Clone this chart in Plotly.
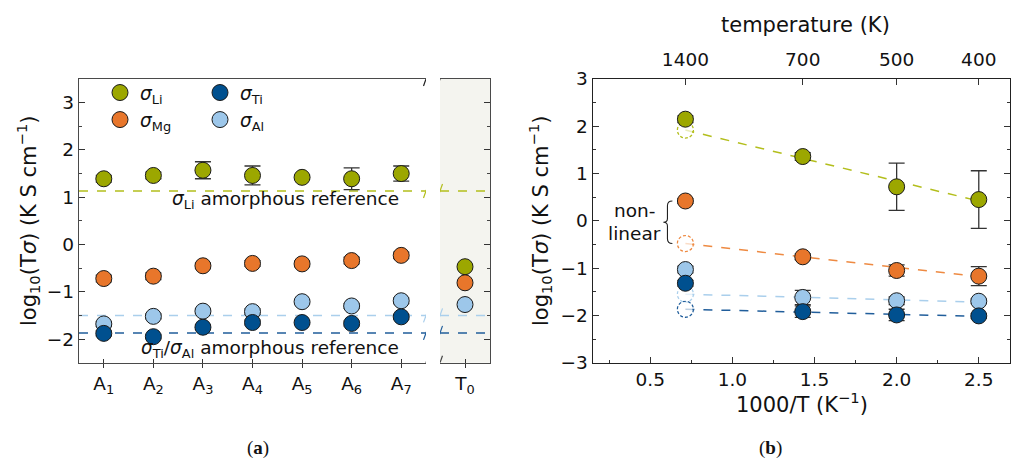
import plotly.graph_objects as go

# ---------------- data: panel (a) ----------------
samples = ["A<sub>1</sub>", "A<sub>2</sub>", "A<sub>3</sub>", "A<sub>4</sub>",
           "A<sub>5</sub>", "A<sub>6</sub>", "A<sub>7</sub>"]
sample_pos = [1, 2, 3, 4, 5, 6, 7]
ref_sample = ["T<sub>0</sub>"]
ref_pos = [0]

li_a = [1.39, 1.46, 1.57, 1.46, 1.42, 1.39, 1.50]
li_a_err = [0.07, 0.07, 0.18, 0.20, 0.05, 0.23, 0.16]
mg_a = [-0.72, -0.67, -0.45, -0.40, -0.41, -0.34, -0.23]
mg_a_err = [0.07, 0.07, 0.06, 0.06, 0.06, 0.07, 0.07]
ti_a = [-1.88, -1.95, -1.75, -1.65, -1.65, -1.67, -1.53]
ti_a_err = [0.05, 0.04, 0.05, 0.05, 0.04, 0.05, 0.05]
al_a = [-1.68, -1.52, -1.41, -1.42, -1.21, -1.30, -1.19]
al_a_err = [0.05, 0.05, 0.05, 0.06, 0.05, 0.05, 0.06]

li_t0, mg_t0, al_t0 = [-0.47], [-0.81], [-1.27]
t0_err = [0.05]

ref_li, ref_al, ref_ti = 1.13, -1.50, -1.87

# ---------------- data: panel (b) ----------------
temperature = [1400, 700, 500, 400]
inv_T = [1000 / t for t in temperature]
li_b = [2.15, 1.36, 0.72, 0.45]
li_b_err = [0.07, 0.08, 0.50, 0.61]
mg_b = [0.42, -0.76, -1.05, -1.17]
mg_b_err = [0.05, 0.06, 0.12, 0.20]
al_b = [-1.03, -1.62, -1.69, -1.70]
al_b_err = [0.07, 0.15, 0.08, 0.05]
ti_b = [-1.32, -1.92, -1.99, -2.01]
ti_b_err = [0.06, 0.12, 0.12, 0.05]

fit_x = [inv_T[0], inv_T[-1]]
li_fit = [1.92, 0.42]
mg_fit = [-0.48, -1.18]
al_fit = [-1.55, -1.72]
ti_fit = [-1.87, -2.02]

# ---------------- styles ----------------
C_LI, C_MG, C_TI, C_AL = "#9CA700", "#E8762B", "#00508F", "#9DC7EA"
L_LI, L_MG, L_TI, L_AL = "#B3BE1C", "#EE8A42", "#215E9B", "#AACFEC"
FONT = "DejaVu Sans"
TS = 18.5   # tick / annotation text size
TT = 21     # axis title size
EB = dict(type="data", color="#333333", thickness=1.3, width=8)
MK = lambda c: dict(size=16, color=c, line=dict(color="#1a1a1a", width=1))

fig = go.Figure()

def pts(x, y, err, color, xa, ya, name=None, legend=None):
    fig.add_trace(go.Scatter(
        x=x, y=y, mode="markers", xaxis=xa, yaxis=ya,
        error_y=dict(array=err, **EB), marker=MK(color),
        name=name or "", showlegend=name is not None,
        legend=legend or "legend", hoverinfo="skip"))

def hline(val, color, xa, ya, rng):
    fig.add_trace(go.Scatter(x=rng, y=[val, val], mode="lines", xaxis=xa, yaxis=ya,
                             line=dict(color=color, width=1.5, dash="dash"),
                             showlegend=False, hoverinfo="skip"))

# reference lines (a)
for val, col in [(ref_li, L_LI), (ref_al, L_AL), (ref_ti, L_TI)]:
    hline(val, col, "x", "y", [0.5, 7.5])
    hline(val, col, "x2", "y2", [-0.5, 0.5])

# points (a)
pts(sample_pos, li_a, li_a_err, C_LI, "x", "y", "<i>σ</i><sub>Li</sub>", "legend")
pts(sample_pos, mg_a, mg_a_err, C_MG, "x", "y", "<i>σ</i><sub>Mg</sub>", "legend")
pts(sample_pos, al_a, al_a_err, C_AL, "x", "y")
pts(sample_pos, ti_a, ti_a_err, C_TI, "x", "y", "<i>σ</i><sub>Ti</sub>", "legend2")
fig.add_trace(go.Scatter(x=[None], y=[None], mode="markers", xaxis="x", yaxis="y",
                         error_y=dict(array=[0], **EB), marker=MK(C_AL),
                         name="<i>σ</i><sub>Al</sub>", legend="legend2"))
pts(ref_pos, li_t0, t0_err, C_LI, "x2", "y2")
pts(ref_pos, mg_t0, t0_err, C_MG, "x2", "y2")
pts(ref_pos, al_t0, t0_err, C_AL, "x2", "y2")

# fit lines (b)
for fy, col in [(li_fit, L_LI), (mg_fit, L_MG), (al_fit, L_AL), (ti_fit, L_TI)]:
    fig.add_trace(go.Scatter(x=fit_x, y=fy, mode="lines+markers", xaxis="x3", yaxis="y3",
                             line=dict(color=col, width=1.5, dash="dash"),
                             marker=dict(size=[14, 0], color="white", line=dict(width=0)),
                             showlegend=False, hoverinfo="skip"))

# points (b)
pts(inv_T, li_b, li_b_err, C_LI, "x3", "y3")
pts(inv_T, mg_b, mg_b_err, C_MG, "x3", "y3")
pts(inv_T, al_b, al_b_err, C_AL, "x3", "y3")
pts(inv_T, ti_b, ti_b_err, C_TI, "x3", "y3")

# invisible traces to activate overlay axes
fig.add_trace(go.Scatter(x=[inv_T[0]], y=[None], xaxis="x4", yaxis="y3",
                         showlegend=False, hoverinfo="skip"))
fig.add_trace(go.Scatter(x=[sample_pos[0]], y=[None], xaxis="x5", yaxis="y",
                         showlegend=False, hoverinfo="skip"))
fig.add_trace(go.Scatter(x=[ref_pos[0]], y=[None], xaxis="x6", yaxis="y2",
                         showlegend=False, hoverinfo="skip"))

shapes = []
# dashed open circles (extrapolated values at 1400 K)
for fy, col in [(li_fit, L_LI), (mg_fit, L_MG), (al_fit, L_AL), (ti_fit, L_TI)]:
    shapes.append(dict(type="circle", xref="x3", yref="y3", xsizemode="pixel",
                       ysizemode="pixel", xanchor=fit_x[0], yanchor=fy[0],
                       x0=-8, x1=8, y0=-8, y1=8, layer="between",
                       line=dict(color=col, width=1.3, dash="3px,2px")))

# shaded T0 region
shapes.append(dict(type="rect", xref="x2 domain", yref="y2 domain", x0=0, x1=1, y0=0, y1=1,
                   fillcolor="#F4F4EF", line=dict(width=0), layer="below"))

# axis break marks
def slash(xref, xa, yref, ya, color):
    shapes.append(dict(type="line", xref=xref, yref=yref, xsizemode="pixel",
                       ysizemode="pixel", xanchor=xa, yanchor=ya,
                       x0=-2.5, x1=2.5, y0=-7, y1=7, layer="above",
                       line=dict(color=color, width=1.2)))

for ya, col in [(3.5, "#222222"), (-2.5, "#444444"), (ref_li, L_LI), (ref_al, L_AL), (ref_ti, L_TI)]:
    slash("x", 7.5, "y", ya, col)
    slash("x2", -0.5, "y2", ya, col)

# curly brace "non-linear"
bx = 0.605
by0, by1 = mg_b[0], mg_fit[0]
bm = (by0 + by1) / 2
path = (f"M {bx+0.03},{by0} Q {bx},{by0} {bx},{by0-0.1} L {bx},{bm+0.08} "
        f"Q {bx},{bm} {bx-0.025},{bm} Q {bx},{bm} {bx},{bm-0.08} "
        f"L {bx},{by1+0.1} Q {bx},{by1} {bx+0.03},{by1}")
shapes.append(dict(type="path", xref="x3", yref="y3", path=path,
                   line=dict(color="#222222", width=1.1)))

TF = dict(family=FONT, size=TS, color="#111111")
AX = dict(showline=True, linecolor="#222222", linewidth=1.3, showgrid=False, zeroline=False,
          tickfont=TF, tickcolor="#333333")
AXL = dict(AX, linecolor="#4a4a4a")

yd = [1 - 362.7 / 464, 1 - 79 / 464]
xd1 = [79 / 1011, 426 / 1011]
xd2 = [440 / 1011, 490 / 1011]

fig.update_layout(
    width=1011, height=464, margin=dict(l=0, r=0, t=0, b=0, pad=0, autoexpand=False),
    paper_bgcolor="white", plot_bgcolor="rgba(0,0,0,0)",
    font=dict(family=FONT, size=TS, color="#111111"),
    shapes=shapes,
    xaxis=dict(AXL, domain=xd1, range=[0.5, 7.5], tickvals=sample_pos,
               ticktext=samples, ticks="outside", ticklen=4, mirror=True, anchor="y"),
    xaxis5=dict(AXL, overlaying="x", range=[0.5, 7.5], tickvals=sample_pos, anchor="y",
                showticklabels=False, ticks="inside", ticklen=4, showline=False),
    yaxis=dict(AXL, domain=yd, range=[-2.5, 3.5], dtick=1, ticks="inside", ticklen=6,
               minor=dict(dtick=0.5, ticks="inside", ticklen=3, tickcolor="#444444"),
               anchor="x"),
    xaxis2=dict(AXL, domain=xd2, range=[-0.5, 0.5], tickvals=ref_pos,
                ticktext=ref_sample, ticks="outside", ticklen=4, mirror=True, anchor="y2"),
    xaxis6=dict(AXL, overlaying="x2", range=[-0.5, 0.5], tickvals=ref_pos, anchor="y2",
                showticklabels=False, ticks="inside", ticklen=4, showline=False),
    yaxis2=dict(AXL, domain=yd, range=[-2.5, 3.5], dtick=1, ticks="inside", ticklen=6,
                side="right", showticklabels=False, anchor="x2",
                minor=dict(dtick=0.5, ticks="inside", ticklen=3, tickcolor="#444444")),
    xaxis3=dict(AX, domain=[592.7 / 1011, 1010 / 1011], range=[0.15, 2.69], dtick=0.5,
                tick0=0.5, tickformat=".1f", ticks="inside", ticklen=6, anchor="y3",
                minor=dict(dtick=0.25, ticks="inside", ticklen=3, tickcolor="#333333")),
    xaxis4=dict(AX, overlaying="x3", side="top", range=[0.15, 2.69], anchor="y3",
                tickvals=inv_T, ticktext=[str(t) for t in temperature],
                ticks="inside", ticklen=6, matches="x3", ticklabelstandoff=4),
    yaxis3=dict(AX, domain=yd, range=[-3, 3], dtick=1, ticks="inside", ticklen=6,
                mirror="ticks", anchor="x3",
                minor=dict(dtick=0.5, ticks="inside", ticklen=3, tickcolor="#333333")),
    legend=dict(x=100 / 1011, y=1 - 74 / 464, xanchor="left", yanchor="top",
                bgcolor="rgba(0,0,0,0)", font=dict(family=FONT, size=TS),
                tracegroupgap=0, itemwidth=30),
    legend2=dict(x=200 / 1011, y=1 - 74 / 464, xanchor="left", yanchor="top",
                 bgcolor="rgba(0,0,0,0)", font=dict(family=FONT, size=TS),
                 tracegroupgap=0, itemwidth=30),
)

ann = [
    dict(text="log<sub>10</sub>(T<i>σ</i>) (K S cm<sup>−1</sup>)", x=28 / 1011, y=1 - 221 / 464,
         textangle=-90, font=dict(family=FONT, size=TT, color="#111111")),
    dict(text="log<sub>10</sub>(T<i>σ</i>) (K S cm<sup>−1</sup>)", x=540 / 1011, y=1 - 221 / 464,
         textangle=-90, font=dict(family=FONT, size=TT, color="#111111")),
    dict(text="<i>σ</i><sub>Li</sub> amorphous reference", x=285 / 1011, y=1 - 200 / 464),
    dict(text="<i>σ</i><sub>Ti</sub>/<i>σ</i><sub>Al</sub> amorphous reference",
         x=270 / 1011, y=1 - 349 / 464),
    dict(text="temperature (K)", x=805 / 1011, y=1 - 25 / 464,
         font=dict(family=FONT, size=TT, color="#111111")),
    dict(text="1000/T (K<sup>−1</sup>)", x=802 / 1011, y=1 - 403 / 464,
         font=dict(family=FONT, size=TT, color="#111111")),
    dict(text="non-", x=634 / 1011, y=1 - 211 / 464),
    dict(text="linear", x=634 / 1011, y=1 - 233 / 464),
    dict(text="(<b>a</b>)", x=258 / 1011, y=1 - 448 / 464,
         font=dict(family="Liberation Serif", size=19, color="#111111")),
    dict(text="(<b>b</b>)", x=770 / 1011, y=1 - 448 / 464,
         font=dict(family="Liberation Serif", size=19, color="#111111")),
]
for a in ann:
    a.setdefault("font", TF)
    fig.add_annotation(xref="paper", yref="paper", showarrow=False,
                       xanchor="center", yanchor="middle", **a)

fig.write_html("out.html")
